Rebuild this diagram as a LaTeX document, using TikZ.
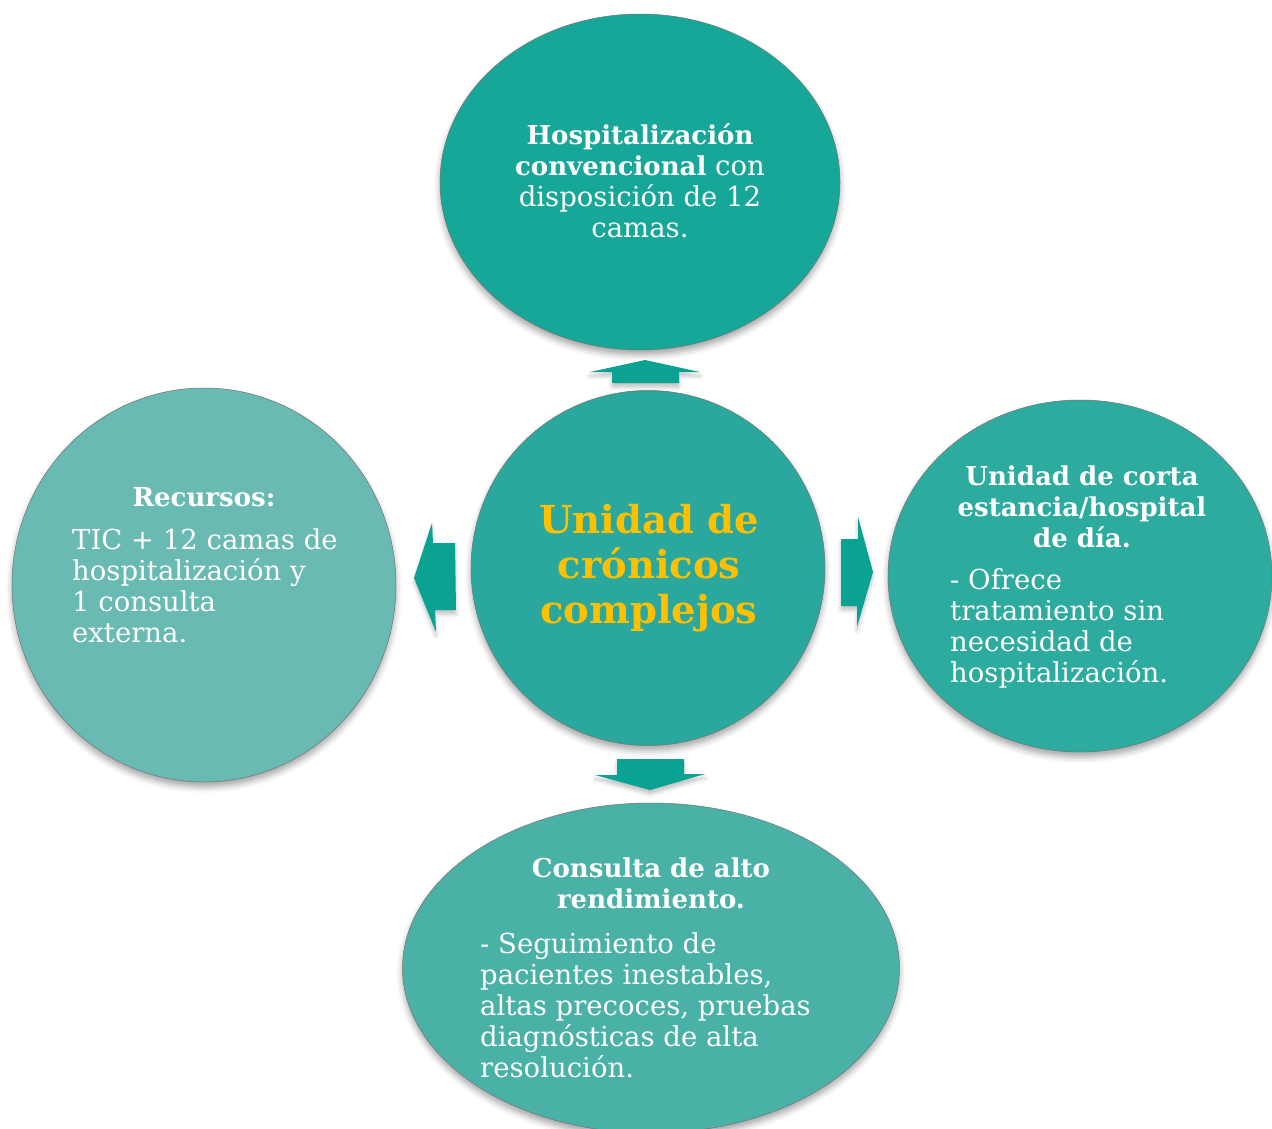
\documentclass[tikz,border=0pt]{standalone}
\usepackage{fontspec}
\setmainfont{DejaVu Serif}
\usetikzlibrary{shapes.geometric,shadows.blur}
\definecolor{cTop}{RGB}{23,167,153}
\definecolor{cCen}{RGB}{43,168,157}
\definecolor{cRight}{RGB}{45,171,159}
\definecolor{cLeft}{RGB}{105,186,178}
\definecolor{cBot}{RGB}{74,177,167}
\definecolor{cArrow}{RGB}{10,163,147}
\definecolor{cGold}{RGB}{255,192,0}
\newcommand{\hd}[1]{{\fontsize{26}{31}\selectfont\bfseries #1}}
\begin{document}
\begin{tikzpicture}[x=1pt,y=-1pt,
  blob/.style={ellipse, draw=black!55, line width=0.5pt, inner sep=0pt,
    blur shadow={shadow xshift=0pt,shadow yshift=-5pt,shadow opacity=35,shadow blur radius=6pt}},
  txt/.style={text=white, inner sep=0pt, font=\fontsize{27.5}{31}\selectfont},
  headtxt/.style={text=white, inner sep=0pt, align=center, font=\fontsize{26}{31}\selectfont\bfseries},
  bigtxt/.style={text=cGold, inner sep=0pt, align=center, font=\fontsize{38.5}{45}\selectfont\bfseries},
  barrow/.style={fill=cArrow, draw=none,
    blur shadow={shadow xshift=0pt,shadow yshift=-4pt,shadow opacity=25,shadow blur radius=4pt}}]
\useasboundingbox (0,0) rectangle (1272,1128);
\clip (0,0) rectangle (1272,1128);

% ellipses
\node[blob, fill=cTop, minimum width=400pt, minimum height=336pt] (top) at (640,182) {};
\node[blob, fill=cLeft, minimum width=384pt, minimum height=394pt] (left) at (204,585) {};
\node[blob, fill=cRight, minimum width=384pt, minimum height=352pt] (right) at (1080,576) {};
\node[blob, fill=cBot, minimum width=497pt, minimum height=330pt] (bot) at (651,968) {};
\node[blob, fill=cCen, minimum width=354pt, minimum height=355pt] (cen) at (648,568) {};

% block arrows
\path[barrow] (590,372) -- (645,360) -- (700,372) -- (679,372) -- (679,383) -- (612,383) -- (612,372) -- cycle;
\path[barrow] (414,578) -- (432,523) -- (433,543) -- (455,543) -- (456,610) -- (435,610) -- (436,632) -- cycle;
\path[barrow] (841,539) -- (858,539) -- (858,517) -- (873,572) -- (857,627) -- (857,606) -- (841,606) -- cycle;
\path[barrow] (617,759) -- (684,759) -- (684,774) -- (705,774) -- (650,790) -- (595,775) -- (617,775) -- cycle;

% texts
\node[bigtxt] (centxt) at (649,568) {Unidad de\\crónicos\\complejos};

\node[txt, align=center] (toptxt) at (640,181)
  {\hd{Hospitalización}\\\hd{convencional} con\\disposición de 12\\camas.};

\node[headtxt] (lefthead) at (204,497) {Recursos:};
\node[txt, align=left, anchor=west] (leftbody) at (72,586)
  {TIC + 12 camas de\\hospitalización y\\1 consulta\\externa.};

\node[headtxt] (righthead) at (1082,507)
  {Unidad de corta\\estancia/hospital\\de día.};
\node[txt, align=left, anchor=west] (rightbody) at (950,628)
  {- Ofrece\\tratamiento sin\\necesidad de\\hospitalización.};

\node[headtxt] (bothead) at (651,883)
  {Consulta de alto\\rendimiento.};
\node[txt, align=left, anchor=west] (botbody) at (480,1005)
  {- Seguimiento de\\pacientes inestables,\\altas precoces, pruebas\\diagnósticas de alta\\resolución.};
\end{tikzpicture}
\end{document}
